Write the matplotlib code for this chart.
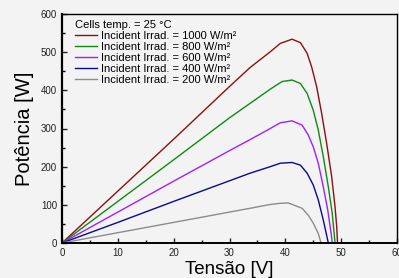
import matplotlib
matplotlib.use("Agg")
import matplotlib.pyplot as plt
from matplotlib.ticker import MultipleLocator

# P-V curves (voltage [V], power [W])
v_1000 = [0, 10, 20, 30, 33.7, 37.3, 39.1, 41.2, 42.7, 43.9, 44.7, 45.6, 46.5, 47.4, 48.3, 48.9, 49.2, 49.35]
p_1000 = [0, 136, 272, 410, 460, 501, 523, 534, 525, 497, 462, 410, 340, 261, 174, 95, 43, 0]

v_800 = [0, 10, 20, 30, 33.7, 37.3, 39.4, 41.2, 42.7, 43.9, 45.0, 45.9, 46.8, 47.7, 48.4, 48.9]
p_800 = [0, 109, 218, 328, 366, 403, 423, 427, 418, 392, 348, 296, 226, 147, 78, 0]

v_600 = [0, 10, 20, 30, 33.7, 37.3, 39.1, 41.2, 43.0, 44.1, 45.0, 45.9, 46.8, 47.6, 48.2, 48.4]
p_600 = [0, 81, 162, 242, 271, 300, 315, 320, 309, 283, 252, 209, 147, 86, 25, 0]

v_400 = [0, 10, 20, 30, 33.7, 37.3, 39.1, 41.2, 42.7, 43.9, 45.0, 45.9, 46.8, 47.7]
p_400 = [0, 54, 109, 163, 183, 200, 209, 211, 204, 183, 152, 113, 60, 0]

v_200 = [0, 10, 20, 30, 33.7, 37.3, 39.1, 40.5, 43.0, 44.1, 45.0, 45.9, 46.4]
p_200 = [0, 27, 54, 81, 91, 101, 104, 105, 91, 73, 52, 25, 0]

labels = ["Incident Irrad. = 1000 W/m²", "Incident Irrad. = 800 W/m²",
          "Incident Irrad. = 600 W/m²", "Incident Irrad. = 400 W/m²",
          "Incident Irrad. = 200 W/m²"]
colors = ["#8b1010", "#108a10", "#a020ff", "#0a0a90", "#8c8c8c"]

plt.rcParams["font.family"] = ["Liberation Sans", "DejaVu Sans"]
bg = "#f2f3f2"

fig = plt.figure(figsize=(3.99, 2.78), dpi=100, facecolor=bg)
ax = fig.add_axes([62 / 399, 1 - 243 / 278, 335 / 399, 229 / 278], facecolor=bg)

series = [(v_1000, p_1000), (v_800, p_800), (v_600, p_600), (v_400, p_400), (v_200, p_200)]
for (v, p), lab, c in zip(series, labels, colors):
    ax.plot(v, p, color=c, linewidth=1.0, label=lab)

ax.set_xlim(0, 60)
ax.set_ylim(0, 600)
ax.xaxis.set_major_locator(MultipleLocator(10))
ax.xaxis.set_minor_locator(MultipleLocator(5))
ax.yaxis.set_major_locator(MultipleLocator(100))
ax.yaxis.set_minor_locator(MultipleLocator(50))
ax.tick_params(which="major", direction="in", length=3.5, width=1, labelsize=7, pad=3.5, colors="#222222")
ax.tick_params(which="minor", direction="in", length=2.5, width=1)

ax.spines["left"].set_linewidth(1.6)
ax.spines["bottom"].set_linewidth(1.4)
ax.spines["top"].set_linewidth(1.0)
ax.spines["right"].set_linewidth(1.0)

ax.set_xlabel("Tensão [V]", fontsize=13.5, labelpad=2)
ax.set_ylabel("Potência [W]", fontsize=14.5, labelpad=5)

leg = ax.legend(title="Cells temp. = 25 °C", loc="upper left", bbox_to_anchor=(0.04, 0.972),
                frameon=False, fontsize=8, title_fontsize=8, alignment="left",
                handlelength=1.9, handletextpad=0.4, labelspacing=0.08,
                borderpad=0, borderaxespad=0)

fig.savefig("out.png", dpi=100, facecolor=bg)
